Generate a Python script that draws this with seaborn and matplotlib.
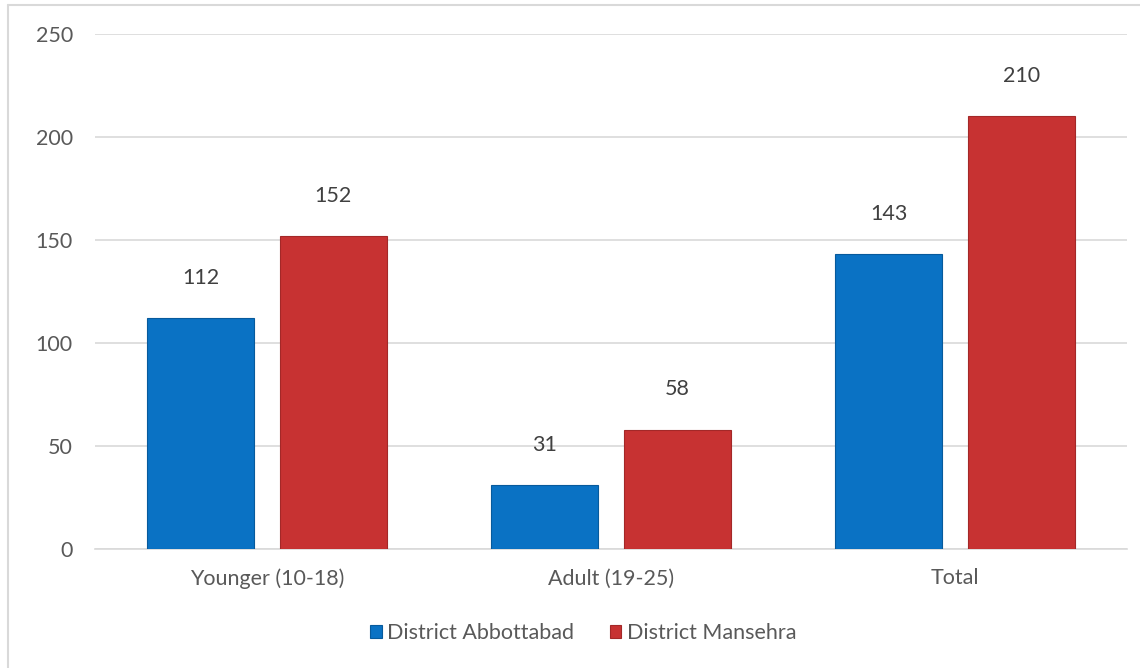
import matplotlib
matplotlib.use("Agg")
import matplotlib.pyplot as plt
from matplotlib.lines import Line2D
from matplotlib.patches import Patch
import seaborn as sns
import pandas as pd

categories = ["Younger (10-18)", "Adult (19-25)", "Total"]
series_names = ["District Abbottabad", "District Mansehra"]
abbottabad = [112, 31, 143]
mansehra = [152, 58, 210]
yticks = [0, 50, 100, 150, 200, 250]

colors = ["#0A72C4", "#C73232"]
edge_colors = ["#075A9C", "#A32828"]

df = pd.DataFrame({
    "category": categories * 2,
    "series": [series_names[0]] * 3 + [series_names[1]] * 3,
    "value": abbottabad + mansehra,
})

sns.set_theme(style="white")
plt.rcParams["font.family"] = ["Lato", "DejaVu Sans"]
text_color = "#595959"

fig = plt.figure(figsize=(11.4, 6.68), dpi=100)
ax = fig.add_axes([95 / 1140, 1 - 549 / 668, 1032 / 1140, 515 / 668])

sns.barplot(data=df, x="category", y="value", hue="series", order=categories,
            hue_order=series_names, palette=colors, width=0.77, gap=0.19,
            ax=ax, legend=False, edgecolor="none", saturation=1, zorder=3)

for i, patch in enumerate(ax.patches):
    patch.set_edgecolor(edge_colors[i // 3])
    patch.set_linewidth(0.8)
    h = patch.get_height()
    x = patch.get_x() + patch.get_width() / 2
    ax.annotate(f"{h:.0f}", (x, h), xytext=(0, 29), textcoords="offset points",
                ha="center", va="center", fontsize=15.5, color="#404040")

ax.set_ylim(0, 250)
ax.set_xlim(-0.5, 2.5)
ax.set_yticks(yticks)
ax.set_yticklabels([str(v) for v in yticks])
ax.yaxis.grid(True, color="#D9D9D9", linewidth=1.2, zorder=0)
ax.set_axisbelow(True)
for s in ["top", "right", "left"]:
    ax.spines[s].set_visible(False)
ax.spines["bottom"].set_color("#D9D9D9")
ax.spines["bottom"].set_linewidth(1.2)
ax.tick_params(axis="both", length=0, labelsize=15.5, colors=text_color)
ax.tick_params(axis="y", pad=16)
ax.tick_params(axis="x", pad=14)
ax.set_xlabel("")
ax.set_ylabel("")

handles = [Patch(facecolor=c, edgecolor=e, linewidth=0.8) for c, e in zip(colors, edge_colors)]
fig.legend(handles, series_names, loc="center", bbox_to_anchor=(583 / 1140, 1 - 633 / 668),
           ncol=2, frameon=False, fontsize=15.5, labelcolor=text_color,
           handlelength=0.55, handleheight=0.55, handletextpad=0.25, columnspacing=1.65)

# chart border (left and top visible)
fig.add_artist(Line2D([7.5 / 1140, 7.5 / 1140], [0, 1 - 5 / 668], transform=fig.transFigure,
                      color="#D9D9D9", linewidth=1.5))
fig.add_artist(Line2D([7.5 / 1140, 1], [1 - 5 / 668, 1 - 5 / 668], transform=fig.transFigure,
                      color="#D9D9D9", linewidth=1.5))

fig.savefig("out.png", dpi=100, facecolor="white")
